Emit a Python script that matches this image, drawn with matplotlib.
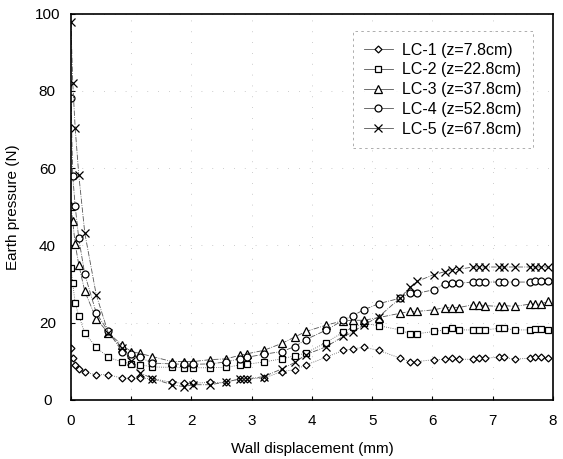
import matplotlib
matplotlib.use("Agg")
import matplotlib.pyplot as plt

plt.rcParams['font.family'] = ['Liberation Sans', 'DejaVu Sans']

# displacement (mm), shared by all load cells
disp = [0, 0.03, 0.07, 0.13, 0.23, 0.42, 0.62, 0.85, 1.00, 1.15, 1.35, 1.68, 1.87, 2.03,
        2.31, 2.57, 2.80, 2.92, 3.20, 3.50, 3.72, 3.90, 4.23, 4.52, 4.68, 4.86, 5.11, 5.46,
        5.63, 5.75, 6.02, 6.21, 6.32, 6.44, 6.67, 6.77, 6.87, 7.10, 7.19, 7.37, 7.62, 7.70,
        7.80, 7.92]

lc1 = [13.4, 10.8, 9.1, 7.9, 7.1, 6.5, 6.5, 5.6, 5.6, 5.6, 5.5, 4.5, 4.3, 4.3, 4.5, 4.5,
       5.4, 5.4, 5.6, 7.3, 7.8, 9.0, 11.0, 12.8, 13.2, 13.6, 12.8, 10.8, 9.9, 9.9, 10.4,
       10.5, 10.8, 10.5, 10.5, 10.8, 10.8, 11.0, 11.0, 10.5, 10.8, 11.0, 11.2, 10.8]
lc2 = [34.1, 30.2, 25.0, 21.8, 17.3, 13.6, 11.0, 9.8, 9.3, 9.1, 8.5, 8.4, 8.3, 8.3, 8.3,
       8.4, 9.0, 9.2, 9.8, 10.6, 11.4, 12.1, 14.8, 17.5, 18.8, 19.8, 19.2, 18.1, 17.1, 17.1,
       17.7, 18.1, 18.5, 18.1, 18.1, 18.1, 18.1, 18.5, 18.5, 18.1, 18.1, 18.3, 18.3, 18.1]
lc3 = [50.1, 46.2, 40.4, 35.0, 28.1, 21.0, 17.3, 14.2, 12.5, 12.0, 11.2, 9.9, 9.9, 9.9,
       10.4, 10.6, 11.5, 11.9, 12.8, 14.6, 16.3, 17.7, 19.3, 20.5, 20.6, 20.6, 21.3, 22.4,
       22.9, 22.9, 23.3, 23.9, 23.9, 23.9, 24.6, 24.6, 24.4, 24.2, 24.4, 24.2, 24.8, 24.8,
       24.8, 25.5]
lc4 = [78.3, 58.0, 50.2, 41.8, 32.5, 22.5, 17.7, 12.5, 11.8, 11.0, 9.5, 9.3, 9.2, 9.2,
       9.3, 9.8, 10.6, 11.0, 11.8, 12.5, 13.8, 15.6, 18.0, 20.6, 21.8, 23.3, 24.9, 26.3,
       27.6, 27.6, 28.5, 30.0, 30.2, 30.2, 30.5, 30.5, 30.5, 30.5, 30.5, 30.5, 30.5, 30.7,
       30.7, 30.9]
lc5 = [97.8, 82.0, 70.5, 58.3, 43.2, 27.2, 17.3, 13.5, 10.0, 7.0, 5.5, 3.9, 3.4, 3.9, 3.9,
       4.6, 5.4, 5.4, 6.0, 8.0, 9.7, 11.7, 13.7, 16.4, 17.5, 19.4, 21.5, 26.3, 29.2, 30.7,
       32.4, 33.2, 33.7, 33.8, 34.4, 34.4, 34.4, 34.4, 34.4, 34.4, 34.4, 34.4, 34.4, 34.4]

labels = ["LC-1 (z=7.8cm)", "LC-2 (z=22.8cm)", "LC-3 (z=37.8cm)",
          "LC-4 (z=52.8cm)", "LC-5 (z=67.8cm)"]
series = [lc1, lc2, lc3, lc4, lc5]
markers = ["D", "s", "^", "o", "x"]
msizes = [3.5, 5, 5.5, 5, 5.5]
styles = [":", ":", "-.", "-.", "-."]

fig = plt.figure(figsize=(5.63, 4.59), dpi=100)
ax = fig.add_axes([0.126, 0.129, 0.856, 0.841])

for ys, lab, m, ms, ls in zip(series, labels, markers, msizes, styles):
    ax.plot(disp, ys, linestyle=ls, linewidth=0.6, color="#555555",
            marker=m, markersize=ms, markerfacecolor="white",
            markeredgecolor="black", markeredgewidth=0.9, label=lab)

ax.set_xlim(0, 8)
ax.set_ylim(0, 100)
ax.set_xticks(range(0, 9))
ax.set_yticks(range(0, 101, 20))
ax.grid(True, linestyle=(0, (1, 12)), linewidth=0.6, color="#bbbbbb")
ax.tick_params(direction="in", labelsize=11, length=3)
ax.tick_params(axis="y", pad=17)
ax.tick_params(axis="x", pad=10)
for t in ax.get_yticklabels():
    t.set_horizontalalignment("center")
for sp in ax.spines.values():
    sp.set_linewidth(1.2)

ax.set_xlabel("Wall displacement (mm)", fontsize=11, labelpad=10)
ax.set_ylabel("Earth pressure (N)", fontsize=11)
ax.yaxis.set_label_coords(-0.105, 0.5)

leg = ax.legend(loc="upper right", bbox_to_anchor=(0.975, 0.975), fontsize=11.5,
                handlelength=1.8, labelspacing=0.3, fancybox=False,
                edgecolor="#888888", borderpad=0.7, handletextpad=0.6)
leg.get_frame().set_linestyle((0, (3, 4)))
leg.get_frame().set_linewidth(0.6)
for h in leg.legend_handles:
    h.set_linestyle("-")

fig.savefig("out.png", dpi=100)
